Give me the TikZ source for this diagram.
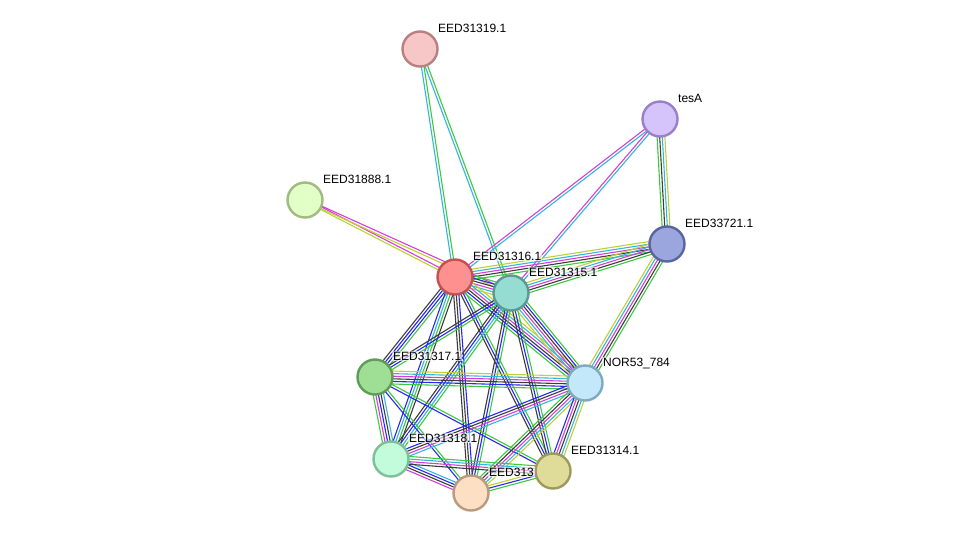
\documentclass[tikz,border=0pt]{standalone}
\usepackage{fontspec}
\setmainfont{Liberation Sans}
\usepackage{xcolor}
\usepackage{tikz}
\usetikzlibrary{calc}

% evidence channel colours
\definecolor{neigh}{RGB}{61,201,61}
\definecolor{cooc}{RGB}{40,40,245}
\definecolor{coexp}{RGB}{60,60,60}
\definecolor{expt}{RGB}{214,62,214}
\definecolor{dbase}{RGB}{50,182,222}
\definecolor{tmine}{RGB}{192,208,52}

% protein colours (fill / border)
\definecolor{f319}{RGB}{247,198,198}\definecolor{b319}{RGB}{184,128,128}
\definecolor{ftesA}{RGB}{213,196,252}\definecolor{btesA}{RGB}{152,128,200}
\definecolor{f888}{RGB}{226,255,200}\definecolor{b888}{RGB}{160,186,128}
\definecolor{f721}{RGB}{155,166,223}\definecolor{b721}{RGB}{90,101,160}
\definecolor{f316}{RGB}{255,144,144}\definecolor{b316}{RGB}{192,82,82}
\definecolor{f315}{RGB}{149,221,210}\definecolor{b315}{RGB}{90,154,144}
\definecolor{f317}{RGB}{159,222,149}\definecolor{b317}{RGB}{94,156,87}
\definecolor{fnor}{RGB}{194,232,250}\definecolor{bnor}{RGB}{128,168,192}
\definecolor{f318}{RGB}{194,252,219}\definecolor{b318}{RGB}{126,191,152}
\definecolor{f313}{RGB}{253,223,195}\definecolor{b313}{RGB}{184,154,126}
\definecolor{f314}{RGB}{222,220,152}\definecolor{b314}{RGB}{156,154,92}

\pgfdeclarelayer{bg}
\pgfsetlayers{bg,main}

% one bundle of parallel lines between two proteins
\newcommand{\ppilink}[3]{%
  \foreach \c [count=\n] in {#3} {\xdef\nlines{\n}}%
  \foreach \c [count=\i] in {#3} {%
    \pgfmathsetmacro{\off}{(\i-(\nlines+1)/2)*2.6}%
    \draw[edge, draw=\c] ($(#1)!\off pt!90:(#2)$) -- ($(#2)!\off pt!-90:(#1)$);
  }}

\begin{document}
\begin{tikzpicture}[
  x=1pt, y=-1pt,
  every node/.style={font=\fontsize{12}{14}\selectfont},
  prot/.style={circle, draw, line width=2.4pt, minimum size=35pt, inner sep=0pt},
  lab/.style={anchor=base west, inner sep=1pt, fill=white, fill opacity=0.6, text opacity=1},
  edge/.style={line width=1.1pt}
]
  \useasboundingbox (0,0) rectangle (976,539);

  \node[prot, fill=f319, draw=b319] (p319) at (420,49) {};
  \node[prot, fill=ftesA, draw=btesA] (tesA) at (660,119) {};
  \node[prot, fill=f888, draw=b888] (p888) at (305,200) {};
  \node[prot, fill=f721, draw=b721] (p721) at (667,244) {};
  \node[prot, fill=f316, draw=b316] (p316) at (455,277) {};
  \node[prot, fill=f315, draw=b315] (p315) at (511,293) {};
  \node[prot, fill=f317, draw=b317] (p317) at (375,377) {};
  \node[prot, fill=fnor, draw=bnor] (nor53) at (585,383) {};
  \node[prot, fill=f318, draw=b318] (p318) at (391,459) {};
  \node[prot, fill=f313, draw=b313] (p313) at (471,493) {};
  \node[prot, fill=f314, draw=b314] (p314) at (553,471) {};

  \node[lab] (l319) at ($(p319)+(17,-17)$) {EED31319.1};
  \node[lab] (ltesA) at ($(tesA)+(17,-17)$) {tesA};
  \node[lab] (l888) at ($(p888)+(17,-17)$) {EED31888.1};
  \node[lab] (l721) at ($(p721)+(17,-17)$) {EED33721.1};
  \node[lab] (l316) at ($(p316)+(17,-17)$) {EED31316.1};
  \node[lab] (l315) at ($(p315)+(17,-17)$) {EED31315.1};
  \node[lab] (l317) at ($(p317)+(17,-17)$) {EED31317.1};
  \node[lab] (lnor) at ($(nor53)+(17,-17)$) {NOR53\_784};
  \node[lab] (l318) at ($(p318)+(17,-17)$) {EED31318.1};
  \node[lab] (l313) at ($(p313)+(17,-17)$) {EED313};
  \node[lab] (l314) at ($(p314)+(17,-17)$) {EED31314.1};

  \begin{pgfonlayer}{bg}
    \ppilink{p319}{p316}{dbase,neigh}
    \ppilink{p319}{p315}{dbase,neigh}
    \ppilink{tesA}{p316}{expt,dbase}
    \ppilink{tesA}{p315}{expt,dbase}
    \ppilink{tesA}{p721}{neigh,coexp,dbase,tmine}
    \ppilink{p888}{p316}{tmine,expt}
    \ppilink{p888}{p315}{tmine,expt}
    \ppilink{p721}{p316}{tmine,dbase,expt,coexp,neigh}
    \ppilink{p721}{p315}{tmine,dbase,expt,coexp,neigh}
    \ppilink{p721}{nor53}{tmine,dbase,expt,coexp,neigh}
    \ppilink{p316}{p315}{tmine,dbase,expt,coexp,cooc,neigh}
    \ppilink{p316}{p317}{coexp,cooc,cooc,neigh}
    \ppilink{p316}{nor53}{neigh,cooc,coexp,expt,dbase,tmine}
    \ppilink{p316}{p318}{cooc,dbase,neigh,coexp}
    \ppilink{p316}{p313}{coexp,coexp,cooc}
    \ppilink{p316}{p314}{coexp,cooc,neigh}
    \ppilink{p315}{p317}{coexp,cooc,neigh}
    \ppilink{p315}{nor53}{tmine,dbase,expt,coexp,cooc,neigh}
    \ppilink{p315}{p318}{coexp,cooc,dbase,neigh}
    \ppilink{p315}{p313}{coexp,cooc,neigh}
    \ppilink{p315}{p314}{coexp,cooc,neigh}
    \ppilink{p317}{nor53}{neigh,cooc,coexp,expt,dbase,tmine}
    \ppilink{p317}{p318}{neigh,expt,cooc,coexp,dbase}
    \ppilink{p317}{p313}{cooc,neigh}
    \ppilink{p317}{p314}{cooc,neigh}
    \ppilink{nor53}{p318}{cooc,coexp,expt,dbase}
    \ppilink{nor53}{p313}{neigh,coexp,expt,dbase,tmine}
    \ppilink{nor53}{p314}{cooc,expt,coexp,dbase,tmine}
    \ppilink{p318}{p313}{expt,coexp,cooc,dbase}
    \ppilink{p318}{p314}{coexp,expt,dbase,neigh}
    \ppilink{p313}{p314}{neigh,cooc,tmine}
  \end{pgfonlayer}
\end{tikzpicture}
\end{document}
